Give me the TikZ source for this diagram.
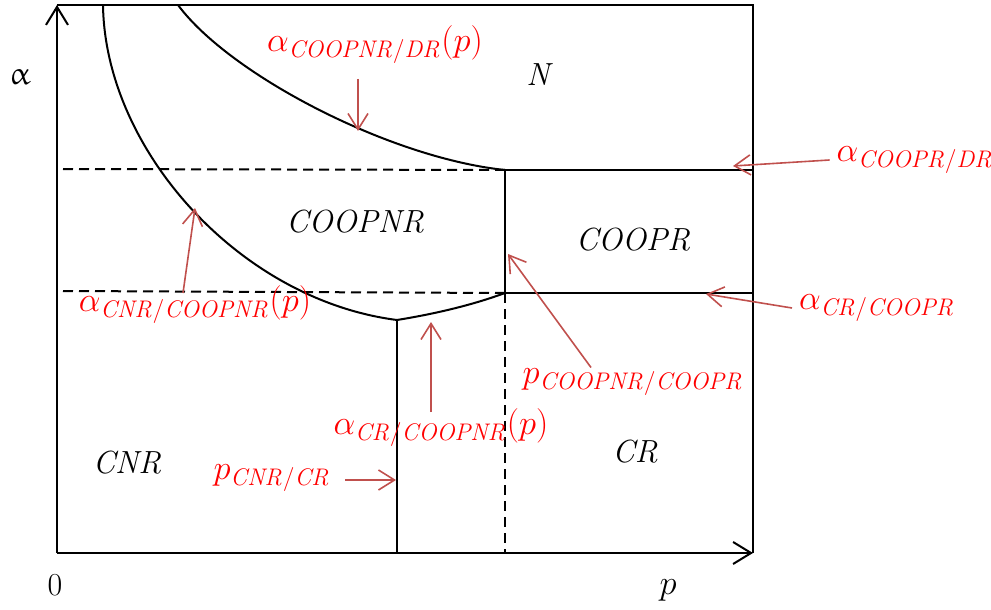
\documentclass[tikz,border=0pt]{standalone}
\usepackage{amsmath,amssymb}
\usepackage{upgreek}
\usepackage{tikz}
\usetikzlibrary{arrows.meta}
\definecolor{arrowred}{HTML}{C0504D}

\begin{document}
\begin{tikzpicture}[
    x=0.5pt, y=-0.5pt,
    line width=1pt,
    region/.style={font=\fontsize{16}{19}\selectfont\itshape, inner sep=0pt},
    lbl/.style={text=red, font=\fontsize{17}{20}\selectfont, inner sep=3pt},
    axis/.style={-{Straight Barb[length=9pt, width=11pt]}},
    bound/.style={dash pattern=on 5pt off 3pt},
    redarr/.style={-{Straight Barb[length=8pt, width=10pt]}, draw=arrowred, line width=0.8pt},
]
\useasboundingbox (0,0) rectangle (991,610);

% axes and frame
\coordinate (O) at (57,553);
\coordinate (ytop) at (57,5);
\coordinate (xend) at (753,553);
\coordinate (tr) at (753,5);
\draw[axis] (O) -- (ytop);
\draw[axis] (O) -- (xend);
\draw (ytop) -- (tr) -- (xend);

% regime boundaries
\coordinate (A) at (505,170);
\coordinate (B) at (505,293);
\coordinate (C) at (397,320);
\draw[bound] (63,169) -- (A);
\draw[bound] (63,291) -- (B);
\draw (A) -- (A -| tr);
\draw (B) -- (B -| tr);
\draw (A) -- (B);
\draw[bound] (B) -- (B |- O);
\draw (C) -- (C |- O);
\draw (103,5) .. controls (105,150) and (240,300) .. (C);
\draw (C) .. controls (440,313) and (475,304) .. (B);
\draw (178,5) .. controls (230,75) and (390,158) .. (A);

% regions
\node[region] (regN) at (538,75) {N};
\node[region] (regCOOPNR) at (355,222) {COOPNR};
\node[region] (regCOOPR) at (633,240) {COOPR};
\node[region] (regCNR) at (127,463) {CNR};
\node[region] (regCR) at (635,452) {CR};
\node[region, font=\fontsize{16}{19}\selectfont] (zero) at (55,585) {0};
\node[region] (pAxis) at (668,590) {$p$};
\node[region] (alphaAxis) at (20,77) {$\upalpha$};

% threshold labels
\node[lbl] (lNRDR) at (375,45) {$\alpha_{\mathit{COOPNR/DR}}(p)$};
\node[lbl] (lPRDR) at (915,160) {$\alpha_{\mathit{COOPR/DR}}$};
\node[lbl] (lCRPR) at (877,308) {$\alpha_{\mathit{CR/COOPR}}$};
\node[lbl] (lCNRNR) at (195,305) {$\alpha_{\mathit{CNR/COOPNR}}(p)$};
\node[lbl] (lNRPR) at (633,382) {$p_{\mathit{COOPNR/COOPR}}$};
\node[lbl] (lCRNR) at (441,428) {$\alpha_{\mathit{CR/COOPNR}}(p)$};
\node[lbl] (lCNRCR) at (272,478) {$p_{\mathit{CNR/CR}}$};

\coordinate (tNRDR) at (358,131);
\coordinate (tPRDR) at (733,166);
\coordinate (tCRPR) at (706,294);
\coordinate (tCNRNR) at (195,208);
\coordinate (tNRPR) at (508,254);
\coordinate (tCRNR) at (431,322);
\coordinate (tCNRCR) at (396,480);

\draw[redarr, shorten <=4pt] (lNRDR.south -| tNRDR) -- (tNRDR);
\draw[redarr] (lPRDR.west) -- (tPRDR);
\draw[redarr] (lCRPR.west) -- (tCRPR);
\draw[redarr] ([xshift=-6pt, yshift=-7pt]lCNRNR.north) -- (tCNRNR);
\draw[redarr] ([xshift=-21pt, yshift=-3pt]lNRPR.north) -- (tNRPR);
\draw[redarr] ([xshift=-5pt, yshift=-5pt]lCRNR.north) -- (tCRNR);
\draw[redarr, shorten <=4pt] (lCNRCR.east |- tCNRCR) -- (tCNRCR);
\end{tikzpicture}
\end{document}
